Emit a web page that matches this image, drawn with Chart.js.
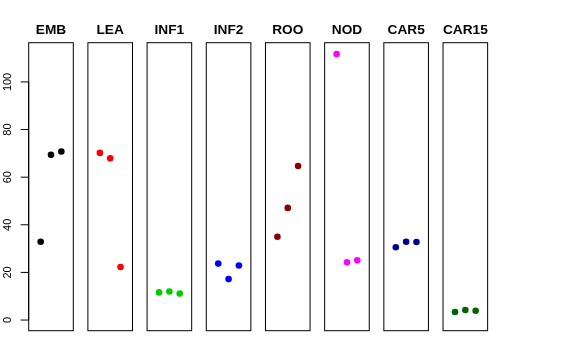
<!DOCTYPE html>
<html>
<head>
<meta charset="utf-8">
<script src="https://cdn.jsdelivr.net/npm/chart.js@4/dist/chart.umd.min.js"></script>
<style>
  html, body { margin: 0; padding: 0; background: #ffffff; }
  #wrap { position: relative; width: 576px; height: 360px; background: #ffffff; }
  #wrap canvas { position: absolute; left: 0; top: 0; }
</style>
</head>
<body>
<div id="wrap"></div>
<script>
// ---- data ----
const categories = ['EMB', 'LEA', 'INF1', 'INF2', 'ROO', 'NOD', 'CAR5', 'CAR15'];
const replicates = [1, 2, 3];
const valuesEMB   = [32.9, 69.4, 70.8];
const valuesLEA   = [70.2, 67.9, 22.3];
const valuesINF1  = [11.6, 12.0, 11.1];
const valuesINF2  = [23.7, 17.2, 22.9];
const valuesROO   = [35.0, 47.1, 64.7];
const valuesNOD   = [111.7, 24.3, 25.1];
const valuesCAR5  = [30.6, 32.9, 32.8];
const valuesCAR15 = [3.35, 4.2, 3.9];
const yTickLabels = [0, 20, 40, 60, 80, 100];
const colors = ['#000000', '#ff0000', '#00cd00', '#0000ff', '#8b0000', '#ff00ff', '#00008b', '#006400'];

const seriesValues = [valuesEMB, valuesLEA, valuesINF1, valuesINF2, valuesROO, valuesNOD, valuesCAR5, valuesCAR15];

// ---- layout ----
const W = 576, H = 360;
const panelTop = 42.7, panelBottom = 330.7;
const firstLeft = 28.7, pitch = 59.19, panelWidth = 44.6;

const boxPlugin = {
  id: 'panelBox',
  afterDatasetsDraw(chart, args, opts) {
    const ctx = chart.ctx;
    const a = chart.chartArea;
    ctx.save();
    ctx.strokeStyle = '#000000';
    ctx.lineWidth = 1;
    ctx.strokeRect(a.left, a.top, a.right - a.left, a.bottom - a.top);
    // title
    ctx.fillStyle = '#000000';
    ctx.font = 'bold 13.7px "Liberation Sans", Arial, Helvetica, sans-serif';
    ctx.textAlign = 'center';
    ctx.textBaseline = 'alphabetic';
    ctx.fillText(opts.title, (a.left + a.right) / 2, 34);
    if (opts.yAxis) {
      const ys = chart.scales.y;
      const x0 = a.left;
      ctx.beginPath();
      ctx.moveTo(x0, ys.getPixelForValue(yTickLabels[0]));
      ctx.lineTo(x0, ys.getPixelForValue(yTickLabels[yTickLabels.length - 1]));
      ctx.stroke();
      ctx.font = '11px "Liberation Sans", Arial, Helvetica, sans-serif';
      ctx.textBaseline = 'middle';
      yTickLabels.forEach(v => {
        const py = ys.getPixelForValue(v);
        ctx.beginPath();
        ctx.moveTo(x0 - 8, py);
        ctx.lineTo(x0, py);
        ctx.stroke();
        ctx.save();
        ctx.translate(8, py);
        ctx.rotate(-Math.PI / 2);
        ctx.textAlign = 'center';
        ctx.fillText(String(v), 0, 0);
        ctx.restore();
      });
    }
    ctx.restore();
  }
};

const wrap = document.getElementById('wrap');
categories.forEach((cat, i) => {
  const canvas = document.createElement('canvas');
  canvas.width = W; canvas.height = H;
  canvas.style.width = W + 'px'; canvas.style.height = H + 'px';
  wrap.appendChild(canvas);
  const left = firstLeft + i * pitch;
  const right = left + panelWidth;
  const pts = replicates.map((r, j) => ({ x: r, y: seriesValues[i][j] }));
  new Chart(canvas, {
    type: 'scatter',
    data: {
      datasets: [{
        label: cat,
        data: pts,
        backgroundColor: colors[i],
        borderColor: colors[i],
        pointRadius: 3.3,
        pointBorderWidth: 0,
        pointHoverRadius: 3.3
      }]
    },
    options: {
      responsive: false,
      animation: false,
      events: [],
      layout: { padding: { left: left, right: W - right, top: panelTop, bottom: H - panelBottom } },
      plugins: {
        legend: { display: false },
        tooltip: { enabled: false },
        title: { display: false },
        panelBox: { title: cat, yAxis: i === 0 }
      },
      scales: {
        x: { type: 'linear', display: false, min: -0.16, max: 4.16 },
        y: { type: 'linear', display: false, min: -4.48, max: 116.48 }
      }
    },
    plugins: [boxPlugin]
  });
});
</script>
</body>
</html>
